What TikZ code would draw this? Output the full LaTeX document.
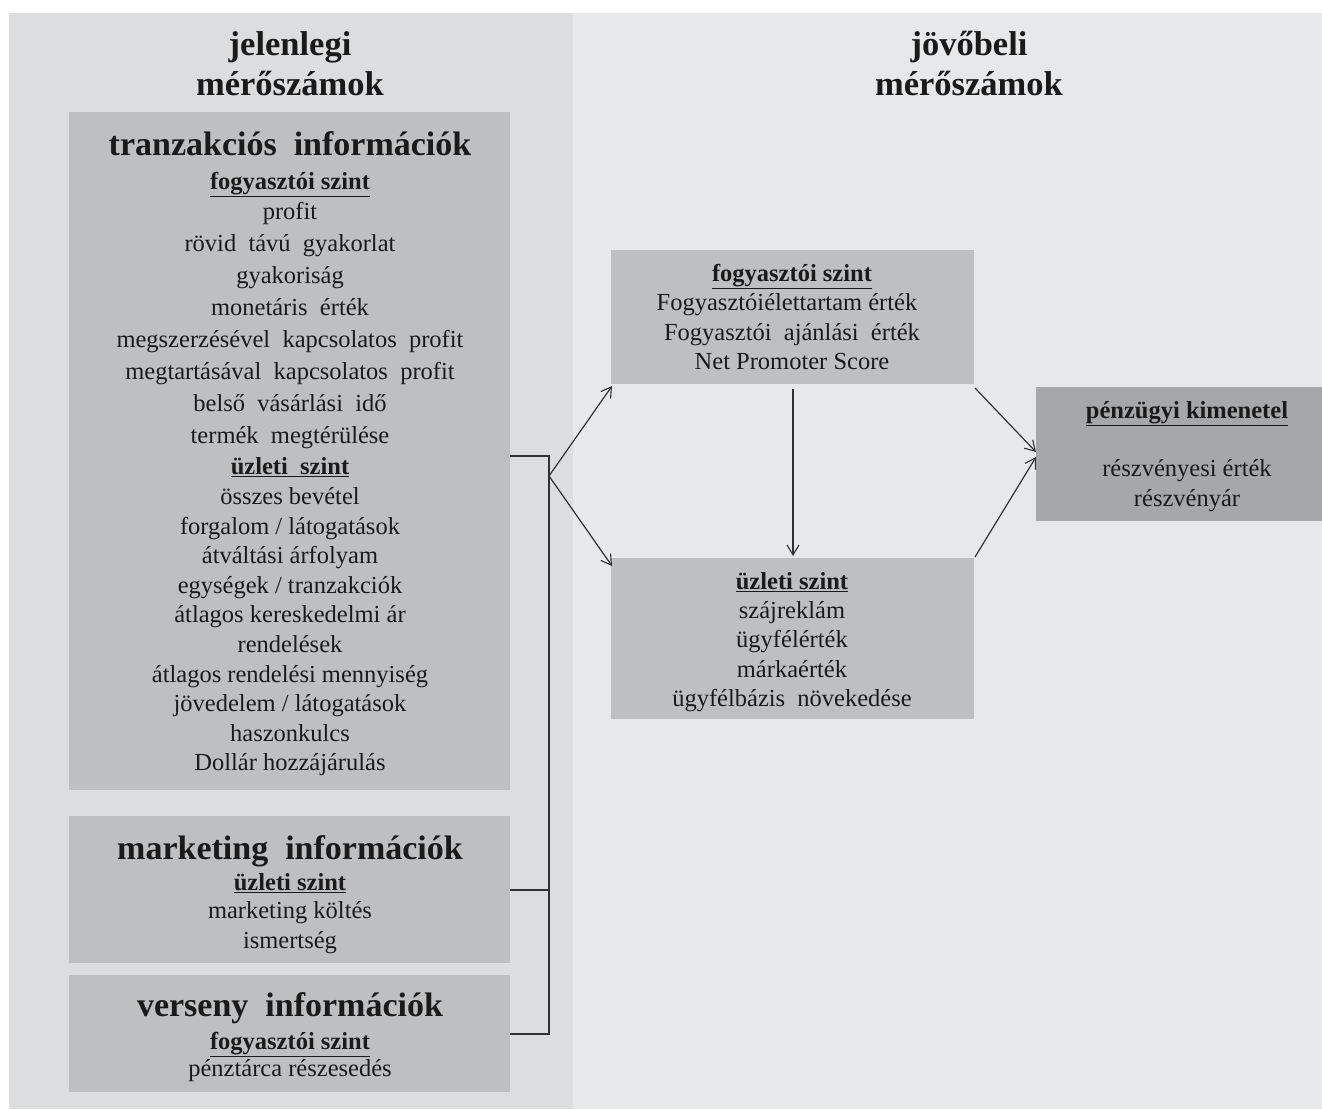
\documentclass[tikz,border=0pt]{standalone}
\usepackage{fontspec}
\setmainfont{Liberation Serif}
\usetikzlibrary{arrows.meta}
\definecolor{leftbg}{HTML}{DCDDDF}
\definecolor{rightbg}{HTML}{E7E8EA}
\definecolor{boxbg}{HTML}{BEBFC1}
\definecolor{darkbox}{HTML}{A6A7A9}
\definecolor{ink}{HTML}{1A1A1A}
\tikzset{
  panel/.style={fill=#1, draw=none},
  infobox/.style={fill=boxbg, draw=none},
  item/.style={text=ink, anchor=base, inner sep=0pt, font=\fontsize{24.5}{28}\selectfont},
  headtxt/.style={text=ink, anchor=base, inner sep=0pt, font=\fontsize{34.5}{38}\selectfont\bfseries},
  titletxt/.style={text=ink, anchor=base, inner sep=0pt, font=\fontsize{34}{38}\selectfont\bfseries},
  link/.style={draw=ink!90, line width=1.2pt},
  arr/.style={link, -{Straight Barb[length=10pt,width=12pt,line width=1.1pt]}},
}
\newcommand{\ulb}[1]{\underline{\textbf{#1}}}
\begin{document}
\begin{tikzpicture}[x=1pt,y=-1pt]
\useasboundingbox[fill=white] (0,0) rectangle (1322,1109);
% panels
\fill[rightbg] (573,13) rectangle (1322,1109);
\fill[leftbg] (9,13) rectangle (573,1109);
% headings
\node[headtxt] (h1) at (290,55) {jelenlegi};
\node[headtxt] (h2) at (290,95) {mérőszámok};
\node[headtxt] (h3) at (969,55) {jövőbeli};
\node[headtxt] (h4) at (969,95) {mérőszámok};
% boxes
\node[infobox, minimum width=441pt, minimum height=678pt, anchor=north west, inner sep=0pt] (tz) at (69,112) {};
\node[infobox, minimum width=441pt, minimum height=147pt, anchor=north west, inner sep=0pt] (mk) at (69,816) {};
\node[infobox, minimum width=441pt, minimum height=117pt, anchor=north west, inner sep=0pt] (vs) at (69,975) {};
\node[infobox, minimum width=363pt, minimum height=134pt, anchor=north west, inner sep=0pt] (fs) at (611,250) {};
\node[infobox, minimum width=363pt, minimum height=161pt, anchor=north west, inner sep=0pt] (us) at (611,558) {};
\node[fill=darkbox, minimum width=286pt, minimum height=134pt, anchor=north west, inner sep=0pt] (pk) at (1036,387) {};
% tranzakciós
\node[titletxt] (tzt) at (290,155) {tranzakciós\ \ információk};
\foreach \y/\t [count=\i] in {
  189/{\ulb{fogyasztói szint}},
  219/profit,
  251/{rövid\ \ távú\ \ gyakorlat},
  283/gyakoriság,
  315/{monetáris\ \ érték},
  347/{megszerzésével\ \ kapcsolatos\ \ profit},
  379/{megtartásával\ \ kapcsolatos\ \ profit},
  411/{belső\ \ vásárlási\ \ idő},
  443/{termék\ \ megtérülése},
  474/{\ulb{üzleti\ \ szint}},
  504/{összes bevétel},
  534/{forgalom / látogatások},
  563/{átváltási árfolyam},
  593/{egységek / tranzakciók},
  622/{átlagos kereskedelmi ár},
  652/rendelések,
  682/{átlagos rendelési mennyiség},
  711/{jövedelem / látogatások},
  741/haszonkulcs,
  770/{Dollár hozzájárulás}}
  \node[item] (tzl\i) at (290,\y) {\t};
% marketing
\node[titletxt] (mkt) at (290,859) {marketing\ \ információk};
\node[item] (mk1) at (290,890) {\ulb{üzleti szint}};
\node[item] (mk2) at (290,918) {marketing költés};
\node[item] (mk3) at (290,948) {ismertség};
% verseny
\node[titletxt] (vst) at (290,1016) {verseny\ \ információk};
\node[item] (vs1) at (290,1049) {\ulb{fogyasztói szint}};
\node[item] (vs2) at (290,1076) {pénztárca részesedés};
% fogyasztói szint (right)
\node[item] (fs1) at (792,281) {\ulb{fogyasztói szint}};
\node[item] (fs2) at (787,310) {Fogyasztóiélettartam érték};
\node[item] (fs3) at (792,340) {Fogyasztói\ \ ajánlási\ \ érték};
\node[item] (fs4) at (792,369) {Net Promoter Score};
% üzleti szint (right)
\node[item] (us1) at (792,589) {\ulb{üzleti szint}};
\node[item] (us2) at (792,618) {szájreklám};
\node[item] (us3) at (792,647) {ügyfélérték};
\node[item] (us4) at (792,677) {márkaérték};
\node[item] (us5) at (792,706) {ügyfélbázis\ \ növekedése};
% pénzügyi
\node[item] (pk1) at (1187,418) {\ulb{pénzügyi kimenetel}};
\node[item] (pk2) at (1187,476) {részvényesi érték};
\node[item] (pk3) at (1187,506) {részvényár};
% connectors
\coordinate (b1) at (549,456);
\coordinate (b2) at (549,890);
\coordinate (b3) at (549,1034);
\coordinate (jn) at (549,476);
\coordinate (fsin) at (612,386);
\coordinate (usin) at (612,566);
\coordinate (fsdn) at (793,389);
\coordinate (usup) at (793,556);
\coordinate (fsout) at (975,388);
\coordinate (usout) at (975,557);
\coordinate (pkin) at (1036,452);
\coordinate (pkin2) at (1036,457);
\draw[link] (tz.east |- b1) -- (b1) -- (b3) -- (vs.east |- b3);
\draw[link] (mk.east |- b2) -- (b2);
\draw[arr] (jn) -- (fsin);
\draw[arr] (jn) -- (usin);
\draw[arr] (fsdn) -- (usup);
\draw[arr] (fsout) -- (pkin);
\draw[arr] (usout) -- (pkin2);
\end{tikzpicture}
\end{document}
